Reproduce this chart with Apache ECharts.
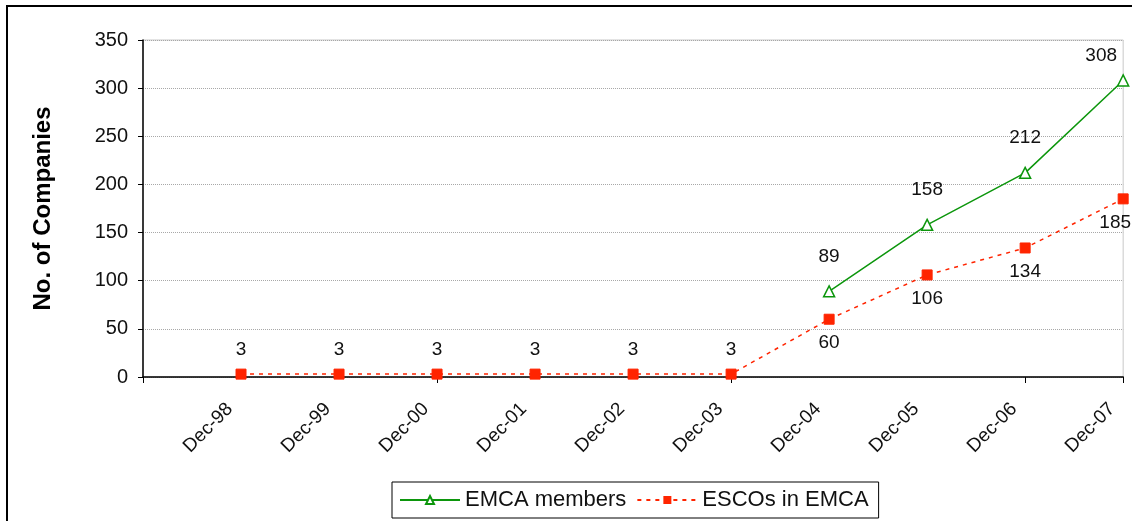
<!DOCTYPE html>
<html>
<head>
<meta charset="utf-8">
<script src="https://cdn.jsdelivr.net/npm/echarts@6/dist/echarts.min.js"></script>
<style>
  html, body { margin: 0; padding: 0; background: #fff; }
  #chart { width: 1132px; height: 521px; }
</style>
</head>
<body>
<div id="chart"></div>
<script>
// Year-end counts of companies
const categories = ['Dec-98', 'Dec-99', 'Dec-00', 'Dec-01', 'Dec-02', 'Dec-03', 'Dec-04', 'Dec-05', 'Dec-06', 'Dec-07'];
const emcaMembers = [null, null, null, null, null, null, 89, 158, 212, 308];
const escosInEmca = [3, 3, 3, 3, 3, 3, 60, 106, 134, 185];
const yTicks = { min: 0, max: 350, interval: 50 };

const FONT = '"Liberation Sans", Arial, sans-serif';
const GREEN = '#0c960c';
const RED = '#ff2400';
const last = categories.length - 1;

// An empty leading slot puts the axis origin one step before the first year
const xCats = [''].concat(categories);
const emcaData = [null].concat(emcaMembers.map((v, i) => (
  v === null ? null
    : i === last ? { value: v, label: { offset: [-22, 10] } }
    : { value: v }
)));
const escoData = [null].concat(escosInEmca.map((v, i) => ({
  value: v,
  label: i < 6
    ? { position: 'top', distance: 9 }
    : { position: 'bottom', distance: 9, offset: i === last ? [-8, 0] : [0, 0] }
})));

const chart = echarts.init(document.getElementById('chart'), null, { renderer: 'canvas' });
chart.setOption({
  animation: false,
  backgroundColor: '#fff',
  textStyle: { fontFamily: FONT },
  graphic: [{
    type: 'rect',
    shape: { x: 7, y: 6, width: 1140, height: 530 },
    style: { fill: 'none', stroke: '#000', lineWidth: 2 },
    silent: true,
    z: -1
  }],
  grid: {
    left: 143, top: 40, right: 5, bottom: 144,
    show: true, borderColor: '#c8c8c8', borderWidth: 1, backgroundColor: 'transparent'
  },
  legend: {
    bottom: 3, left: 392,
    padding: [7, 10, 7, 7],
    borderColor: '#000', borderWidth: 1,
    itemWidth: 60, itemHeight: 10, itemGap: 10,
    textStyle: { fontFamily: FONT, fontSize: 22, color: '#111' },
    data: ['EMCA members', 'ESCOs in EMCA']
  },
  xAxis: {
    type: 'category',
    data: xCats,
    boundaryGap: false,
    axisLine: { lineStyle: { color: '#000', width: 1.5 } },
    axisTick: { show: true, interval: 2, length: 6, lineStyle: { color: '#000' } },
    axisLabel: {
      interval: 0, rotate: 45, margin: 18,
      formatter: (v) => v ? v + '   ' : '',
      fontFamily: FONT, fontSize: 19, color: '#111'
    },
    splitLine: { show: false }
  },
  yAxis: {
    type: 'value',
    min: yTicks.min, max: yTicks.max, interval: yTicks.interval,
    name: 'No. of Companies',
    nameLocation: 'middle',
    nameGap: 88,
    nameTextStyle: { fontFamily: FONT, fontSize: 24, fontWeight: 'bold', color: '#000' },
    axisLine: { show: true, lineStyle: { color: '#000', width: 1.5 } },
    axisTick: { show: true, length: 5, lineStyle: { color: '#000' } },
    axisLabel: { margin: 15, fontFamily: FONT, fontSize: 20, color: '#111' },
    splitLine: { show: true, lineStyle: { color: '#a8a8a8', type: 'dotted', width: 1 } }
  },
  series: [
    {
      name: 'EMCA members',
      type: 'line',
      data: emcaData,
      connectNulls: false,
      symbol: 'triangle',
      symbolSize: 11,
      itemStyle: { color: '#fff', borderColor: GREEN, borderWidth: 1.5 },
      lineStyle: { color: GREEN, width: 1.5 },
      label: {
        show: true, position: 'top', distance: 19,
        fontFamily: FONT, fontSize: 19, color: '#111'
      },
      z: 3
    },
    {
      name: 'ESCOs in EMCA',
      type: 'line',
      data: escoData,
      symbol: 'rect',
      symbolSize: 10,
      itemStyle: { color: RED, borderColor: RED },
      lineStyle: { color: RED, width: 1.5, type: [4, 5] },
      label: {
        show: true,
        fontFamily: FONT, fontSize: 19, color: '#111'
      },
      z: 2
    }
  ]
});
</script>
</body>
</html>
